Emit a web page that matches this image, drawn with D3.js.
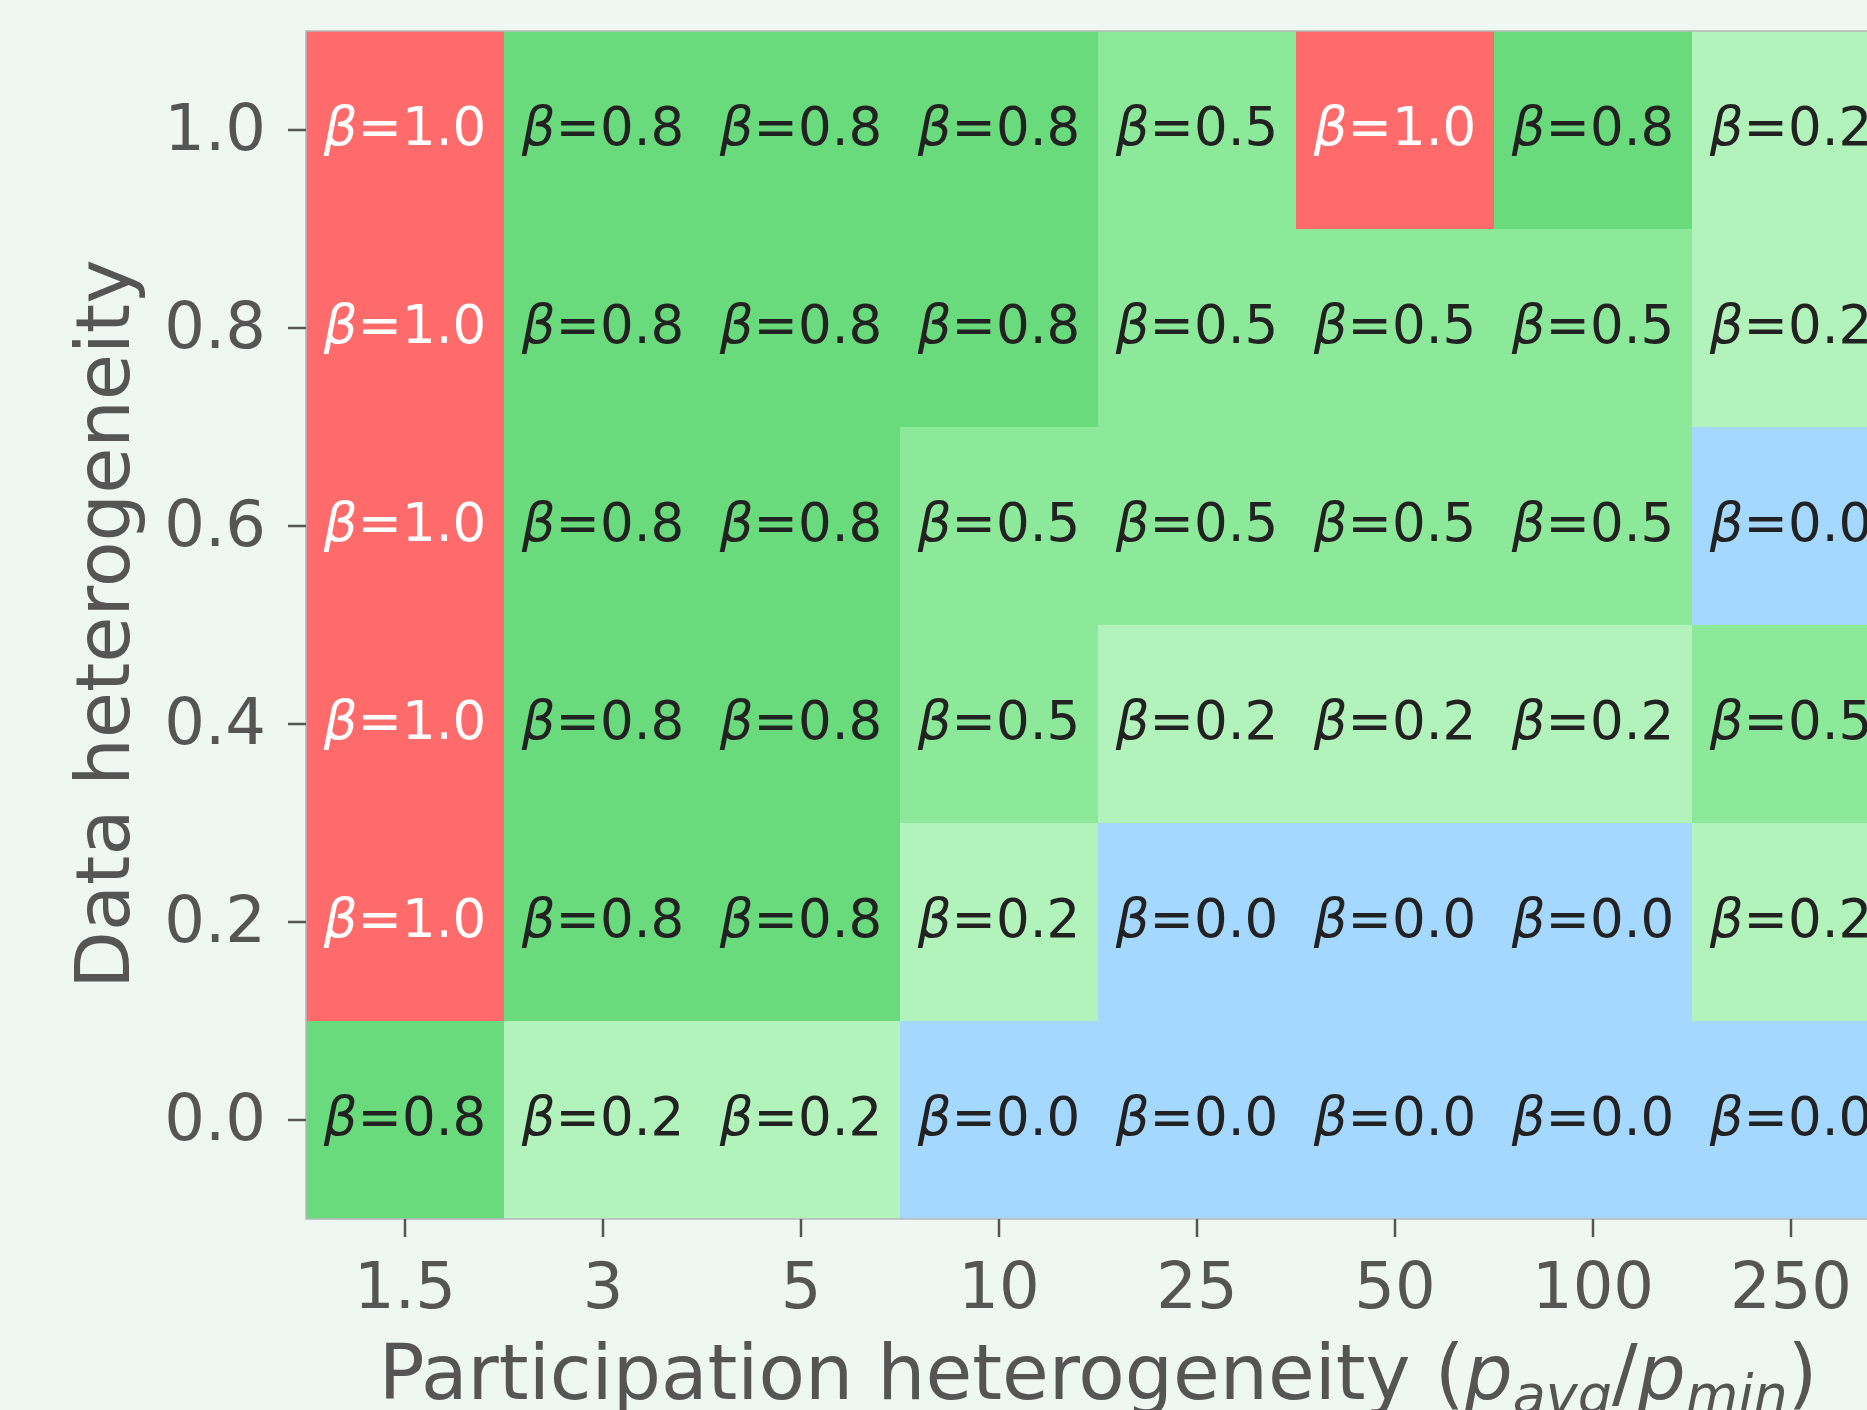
<!DOCTYPE html>
<html>
<head>
<meta charset="utf-8">
<script src="https://cdn.jsdelivr.net/npm/d3@7"></script>
<style>
  html, body { margin: 0; padding: 0; background: #eff7f2; overflow: hidden; }
  svg { display: block; font-family: "DejaVu Sans", sans-serif; }
</style>
</head>
<body>
<div id="chart"></div>
<script>
// participation heterogeneity (columns) and data heterogeneity (rows, top to bottom)
const xLabels = ["1.5", "3", "5", "10", "25", "50", "100", "250"];
const yLabels = ["1.0", "0.8", "0.6", "0.4", "0.2", "0.0"];

// chosen beta per row, same order as yLabels
const row10 = [1.0, 0.8, 0.8, 0.8, 0.5, 1.0, 0.8, 0.2];
const row08 = [1.0, 0.8, 0.8, 0.8, 0.5, 0.5, 0.5, 0.2];
const row06 = [1.0, 0.8, 0.8, 0.5, 0.5, 0.5, 0.5, 0.0];
const row04 = [1.0, 0.8, 0.8, 0.5, 0.2, 0.2, 0.2, 0.5];
const row02 = [1.0, 0.8, 0.8, 0.2, 0.0, 0.0, 0.0, 0.2];
const row00 = [0.8, 0.2, 0.2, 0.0, 0.0, 0.0, 0.0, 0.0];
const betaRows = [row10, row08, row06, row04, row02, row00];

const betaLevels = [0.0, 0.2, 0.5, 0.8, 1.0];
const betaColors = ["#a5d8ff", "#b2f2bb", "#8ce99a", "#69db7c", "#ff6b6b"];

const W = 1867, H = 1410;
const margin = { left: 306, top: 31 };
const cell = 198;

const cells = [];
betaRows.forEach((row, i) => row.forEach((v, j) => cells.push({ x: xLabels[j], y: yLabels[i], v })));

const color = d3.scaleOrdinal().domain(betaLevels).range(betaColors);

const x = d3.scaleBand().domain(xLabels).range([margin.left, margin.left + cell * xLabels.length]);
const y = d3.scaleBand().domain(yLabels).range([margin.top, margin.top + cell * yLabels.length]);

const svg = d3.select("#chart").append("svg")
    .attr("width", W)
    .attr("height", H);

svg.append("rect").attr("width", W).attr("height", H).attr("fill", "#eff7f2");

svg.append("g")
  .selectAll("rect")
  .data(cells)
  .join("rect")
    .attr("x", d => x(d.x))
    .attr("y", d => y(d.y))
    .attr("width", x.bandwidth())
    .attr("height", y.bandwidth())
    .attr("fill", d => color(d.v));

const lab = svg.append("g")
    .attr("font-size", 53)
    .attr("text-anchor", "middle")
  .selectAll("text")
  .data(cells)
  .join("text")
    .attr("x", d => x(d.x) + x.bandwidth() / 2)
    .attr("y", d => y(d.y) + y.bandwidth() / 2)
    .attr("dy", "0.28em")
    .attr("fill", d => d.v === 1.0 ? "#ffffff" : "#222222");
lab.append("tspan").attr("font-style", "italic").text("β");
lab.append("tspan").text(d => "=" + d.v.toFixed(1));

// frame
svg.append("rect")
    .attr("x", x.range()[0])
    .attr("y", y.range()[0])
    .attr("width", x.range()[1] - x.range()[0])
    .attr("height", y.range()[1] - y.range()[0])
    .attr("fill", "none")
    .attr("stroke", "#b8b8b8")
    .attr("stroke-width", 1.5);

const xAxis = svg.append("g")
    .attr("transform", `translate(0,${y.range()[1]})`)
    .call(d3.axisBottom(x).tickSize(18).tickPadding(26));
const yAxis = svg.append("g")
    .attr("transform", `translate(${x.range()[0]},0)`)
    .call(d3.axisLeft(y).tickSize(18).tickPadding(22));

[xAxis, yAxis].forEach(g => {
  g.select(".domain").remove();
  g.selectAll(".tick line").attr("stroke", "#555555").attr("stroke-width", 2.5);
  g.selectAll(".tick text")
    .attr("fill", "#555555")
    .attr("font-size", 64)
    .attr("font-family", "DejaVu Sans, sans-serif");
});

svg.append("text")
    .attr("transform", "translate(129,624) rotate(-90)")
    .attr("text-anchor", "middle")
    .attr("font-size", 75)
    .attr("fill", "#555555")
    .text("Data heterogeneity");

const xt = svg.append("text")
    .attr("x", x.range()[0] + (x.range()[1] - x.range()[0]) / 2)
    .attr("y", 1399)
    .attr("text-anchor", "middle")
    .attr("font-size", 76)
    .attr("fill", "#555555");
xt.append("tspan").text("Participation heterogeneity (");
xt.append("tspan").attr("font-style", "italic").text("p");
xt.append("tspan").attr("font-style", "italic").attr("font-size", 54).attr("dy", 14).text("avg");
xt.append("tspan").attr("dy", -14).text("/");
xt.append("tspan").attr("font-style", "italic").text("p");
xt.append("tspan").attr("font-style", "italic").attr("font-size", 54).attr("dy", 14).text("min");
xt.append("tspan").attr("dy", -14).text(")");
</script>
</body>
</html>
